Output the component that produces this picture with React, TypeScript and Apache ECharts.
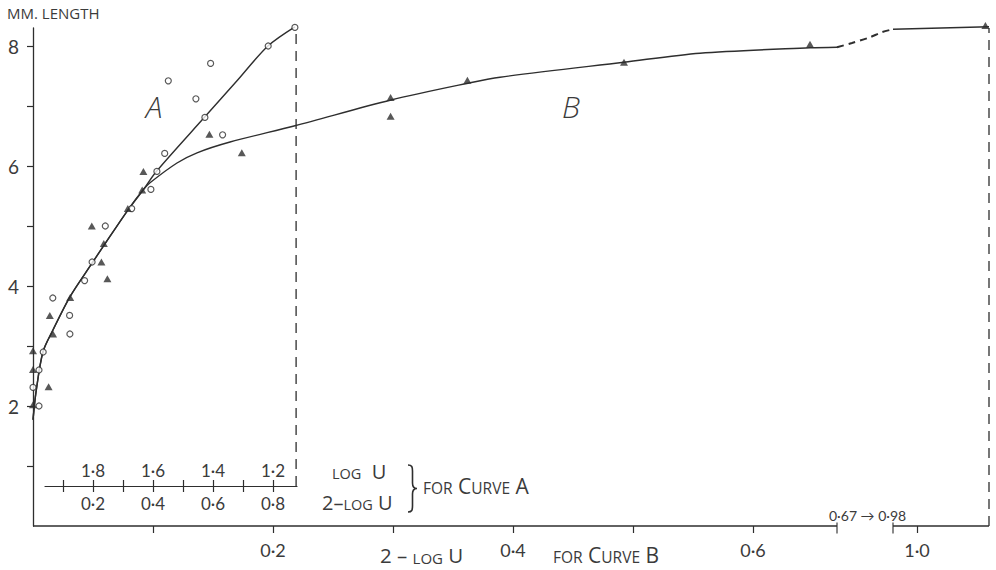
import React, { useEffect, useRef } from 'react';
import * as echarts from 'echarts';

// ---------- data ----------
// y axis: mm length
const Y_TICKS = [1, 2, 3, 4, 5, 6, 7, 8];
const Y_LABELS = [2, 4, 6, 8];
// main x axis (2 - log U for curve B), broken between 0.67 and 0.98
const B_TICKS = [0.1, 0.2, 0.3, 0.4, 0.5, 0.6, 1.0];
const B_LABELS = [0.2, 0.4, 0.6, 1.0];
const BREAK_START = 0.67;
const BREAK_END = 0.98;
const B_MAX = 1.06;
// inner x axis for curve A (2 - log U; log U shown above)
const A_TICKS = [0.1, 0.2, 0.3, 0.4, 0.5, 0.6, 0.7, 0.8];
const A_LABELS = [0.2, 0.4, 0.6, 0.8];
const A_AXIS_START = 0.04;
const A_AXIS_END = 0.88;

// open circles, curve A data (x = 2 - log U on the curve-A scale)
const CIRCLES_A: number[][] = [
  [0.873, 8.31], [0.784, 8.0], [0.592, 7.71], [0.451, 7.42], [0.543, 7.12],
  [0.573, 6.81], [0.632, 6.52], [0.439, 6.21], [0.413, 5.91], [0.393, 5.61],
  [0.329, 5.29], [0.241, 5.0], [0.197, 4.4], [0.172, 4.09], [0.066, 3.8],
  [0.122, 3.51], [0.123, 3.2], [0.034, 2.9], [0.02, 2.6], [0.0, 2.31], [0.02, 2.0],
];
// filled triangles, curve B data (x = 2 - log U on the curve-B scale)
const TRIANGLES_B: number[][] = [
  [0.079, 5.29], [0.049, 5.0], [0.059, 4.71], [0.057, 4.4], [0.062, 4.12],
  [0.031, 3.81], [0.014, 3.51], [0.0167, 3.2], [0.0, 2.92], [0.0, 2.61],
  [0.013, 2.32], [0.0, 2.02], [0.091, 5.6], [0.092, 5.91], [0.147, 6.53],
  [0.174, 6.22], [0.298, 7.14], [0.298, 6.83], [0.362, 7.43], [0.4925, 7.73],
  [0.6475, 8.03], [1.057, 8.34],
];
const CURVE_A: number[][] = [
  [0, 1.77], [0.01, 2.23], [0.033, 2.9], [0.067, 3.27], [0.123, 3.82],
  [0.197, 4.38], [0.237, 4.68], [0.317, 5.27], [0.367, 5.6], [0.413, 5.92],
  [0.573, 6.82], [0.68, 7.42], [0.783, 8.0], [0.873, 8.32],
];
const CURVE_B: number[][] = [
  [0, 1.77], [0.0025, 2.23], [0.0083, 2.9], [0.0167, 3.27], [0.0308, 3.82],
  [0.0492, 4.38], [0.0592, 4.68], [0.0792, 5.27], [0.0917, 5.6], [0.0975, 5.72],
  [0.12, 6.05], [0.1367, 6.22], [0.1642, 6.4], [0.2183, 6.67], [0.2983, 7.1],
  [0.3625, 7.38], [0.3892, 7.48], [0.4925, 7.73], [0.5558, 7.88], [0.6475, 7.97],
  [0.67, 7.98],
];
const CURVE_B_BRIDGE: number[][] = [
  [0.67, 7.98], [0.753, 8.05], [0.847, 8.14], [0.919, 8.23], [0.98, 8.28],
];
const CURVE_B_TAIL: number[][] = [[0.98, 8.28], [1.02, 8.3], [1.06, 8.32]];
const A_END_X = 0.877;
const A_END_Y = 8.31;

// ---------- layout ----------
const W = 996;
const H = 570;
const GRID_LEFT = 33;
const GRID_RIGHT = 7;
const GRID_TOP = 28;
const GRID_BOTTOM = 44;
const Y_MAX = 8.3;
const GAP = 56 / 1200; // break gap in axis units
const A_SCALE = 4; // curve-A scale is 4x the curve-B scale
const A_PX_PER_UNIT = 300;
const INNER_AXIS_PX = 486;
const INNER_AXIS_LEVEL = ((H - GRID_BOTTOM) - INNER_AXIS_PX) / ((H - GRID_BOTTOM - GRID_TOP) / Y_MAX);

const INK = '#2e2e2e';
const TEXT = '#3b3b3b';
const FONT = 'Lato, "Open Sans", sans-serif';
const CAPS_FONT = '"Open Sans", Lato, sans-serif';

function mapB(x: number): number {
  if (x <= BREAK_START) return x;
  if (x >= BREAK_END) return x - (BREAK_END - BREAK_START) + GAP;
  return BREAK_START + ((x - BREAK_START) / (BREAK_END - BREAK_START)) * GAP;
}
function unmapB(v: number): number {
  if (v <= BREAK_START) return v;
  if (v >= BREAK_START + GAP) return v + (BREAK_END - BREAK_START) - GAP;
  return BREAK_START + ((v - BREAK_START) / GAP) * (BREAK_END - BREAK_START);
}
const fmt = (n: number) => (Math.round(n * 10) / 10).toFixed(1).replace('.', '\u00B7');
const mapPts = (pts: number[][]) => pts.map((p) => [mapB(p[0]), p[1]]);

const B_AXIS_MAX = mapB(B_MAX);
const A_AXIS_MAX = B_AXIS_MAX * A_SCALE;

let braceRegistered = false;
function registerBrace() {
  if (braceRegistered) return;
  const d =
    'M0,0 C4,0 4.5,2 4.5,6 L4.5,18 C4.5,21.5 5.5,23.5 9,23.5 C5.5,23.5 4.5,25.5 4.5,29 L4.5,41 C4.5,45 4,47 0,47';
  echarts.graphic.registerShape('brace', (echarts.graphic as any).extendPath(d, {}));
  braceRegistered = true;
}

function smallCaps(text: string, x: number, y: number, big = 20, small = 14.5) {
  return {
    type: 'text',
    x,
    y,
    silent: true,
    style: {
      text,
      fill: TEXT,
      fontFamily: CAPS_FONT,
      align: 'left',
      verticalAlign: 'middle',
      rich: {
        b: { fontSize: big, lineHeight: 20, verticalAlign: 'bottom', fill: TEXT, fontFamily: CAPS_FONT },
        s: { fontSize: small, lineHeight: 20, verticalAlign: 'bottom', fill: TEXT, fontFamily: CAPS_FONT },
      },
    },
  };
}

export default function App() {
  const ref = useRef<HTMLDivElement>(null);

  useEffect(() => {
    if (!ref.current) return;
    registerBrace();
    const chart = echarts.init(ref.current, null, { renderer: 'svg' });

    const lineBase = {
      type: 'line',
      symbol: 'none',
      smooth: 0.3,
      clip: false,
      silent: true,
      lineStyle: { color: INK, width: 1.4 },
    };

    const option: any = {
      animation: false,
      backgroundColor: '#ffffff',
      textStyle: { fontFamily: FONT },
      grid: [
        {
          left: GRID_LEFT, right: GRID_RIGHT, top: GRID_TOP, bottom: GRID_BOTTOM,
          containLabel: false, outerBoundsMode: 'none',
        },
        {
          left: GRID_LEFT + A_AXIS_START * A_PX_PER_UNIT,
          width: (A_AXIS_END - A_AXIS_START) * A_PX_PER_UNIT,
          bottom: H - INNER_AXIS_PX,
          height: 20,
          containLabel: false, outerBoundsMode: 'none',
        },
      ],
      xAxis: [
        {
          gridIndex: 0, type: 'value', position: 'bottom', min: 0, max: B_AXIS_MAX,
          axisLine: { show: false },
          splitLine: { show: false },
          axisTick: {
            show: true, length: 7, customValues: B_TICKS.map(mapB),
            lineStyle: { color: INK, width: 1.2 },
          },
          axisLabel: {
            show: true, customValues: B_LABELS.map(mapB), margin: 15,
            formatter: (v: number) => fmt(unmapB(v)),
            color: TEXT, fontSize: 18, fontFamily: FONT,
          },
        },
        {
          gridIndex: 0, type: 'value', position: 'bottom', min: 0, max: A_AXIS_MAX, show: false,
          splitLine: { show: false },
        },
        {
          gridIndex: 1, type: 'value', position: 'bottom', min: A_AXIS_START, max: A_AXIS_END,
          axisLine: { show: true, onZero: false, lineStyle: { color: INK, width: 1.2 } },
          splitLine: { show: false },
          axisTick: {
            show: true, inside: true, length: 6, customValues: A_TICKS,
            lineStyle: { color: INK, width: 1.2 },
          },
          axisLabel: {
            show: true, inside: true, margin: 7, customValues: A_LABELS,
            formatter: (v: number) => fmt(2 - v),
            color: TEXT, fontSize: 17, fontFamily: FONT,
          },
        },
        {
          gridIndex: 1, type: 'value', position: 'bottom', min: A_AXIS_START, max: A_AXIS_END,
          axisLine: { show: false, onZero: false },
          splitLine: { show: false },
          axisTick: {
            show: true, length: 6, customValues: A_TICKS,
            lineStyle: { color: INK, width: 1.2 },
          },
          axisLabel: {
            show: true, margin: 9, customValues: A_LABELS,
            formatter: (v: number) => fmt(v),
            color: TEXT, fontSize: 17, fontFamily: FONT,
          },
        },
      ],
      yAxis: [
        {
          gridIndex: 0, type: 'value', min: 0, max: Y_MAX,
          axisLine: { show: true, lineStyle: { color: INK, width: 1.3 } },
          splitLine: { show: false },
          axisTick: {
            show: true, length: 6, customValues: Y_TICKS,
            lineStyle: { color: INK, width: 1.2 },
          },
          axisLabel: {
            show: true, customValues: Y_LABELS, margin: 14,
            color: TEXT, fontSize: 19, fontFamily: FONT,
          },
        },
        { gridIndex: 1, type: 'value', min: 0, max: 1, show: false },
      ],
      series: [
        // bottom axis line, broken
        {
          ...lineBase, smooth: false, xAxisIndex: 0, yAxisIndex: 0,
          data: mapPts([[0, 0], [BREAK_START, 0]]),
          lineStyle: { color: INK, width: 1.3 },
        },
        {
          ...lineBase, smooth: false, xAxisIndex: 0, yAxisIndex: 0,
          data: mapPts([[BREAK_END, 0], [B_MAX, 0]]),
          lineStyle: { color: INK, width: 1.3 },
        },
        // break caps
        {
          type: 'scatter', xAxisIndex: 0, yAxisIndex: 0, silent: true, clip: false,
          symbol: 'rect', symbolSize: [1.4, 11], symbolOffset: [0, 2],
          itemStyle: { color: INK },
          data: mapPts([[BREAK_START, 0], [BREAK_END, 0]]),
        },
        // dashed vertical at end of curve A
        {
          ...lineBase, smooth: false, xAxisIndex: 1, yAxisIndex: 0,
          data: [[A_END_X, INNER_AXIS_LEVEL], [A_END_X, A_END_Y]],
          lineStyle: { color: INK, width: 1.3, type: [10, 7] },
        },
        // dashed vertical at end of curve B
        {
          ...lineBase, smooth: false, xAxisIndex: 0, yAxisIndex: 0,
          data: mapPts([[B_MAX, 0], [B_MAX, 8.3]]),
          lineStyle: { color: INK, width: 1.3, type: [10, 7] },
        },
        // curve A
        { ...lineBase, xAxisIndex: 1, yAxisIndex: 0, data: CURVE_A },
        // curve B
        { ...lineBase, xAxisIndex: 0, yAxisIndex: 0, data: mapPts(CURVE_B) },
        {
          ...lineBase, xAxisIndex: 0, yAxisIndex: 0, data: mapPts(CURVE_B_BRIDGE),
          lineStyle: { color: INK, width: 2, type: [7, 5] },
        },
        { ...lineBase, smooth: false, xAxisIndex: 0, yAxisIndex: 0, data: mapPts(CURVE_B_TAIL) },
        // points
        {
          type: 'scatter', xAxisIndex: 1, yAxisIndex: 0, silent: true, clip: false,
          symbol: 'circle', symbolSize: 6,
          itemStyle: { color: '#ffffff', borderColor: INK, borderWidth: 1.2 },
          data: CIRCLES_A, z: 5,
        },
        {
          type: 'scatter', xAxisIndex: 0, yAxisIndex: 0, silent: true, clip: false,
          symbol: 'triangle', symbolSize: [8, 7],
          itemStyle: { color: INK },
          data: mapPts(TRIANGLES_B), z: 5,
        },
      ],
      graphic: [
        {
          type: 'text', x: 7, y: 13, silent: true,
          style: {
            text: 'MM. LENGTH', fill: TEXT, fontSize: 15, fontFamily: CAPS_FONT,
            align: 'left', verticalAlign: 'middle',
          },
        },
        {
          type: 'text', x: 154, y: 106, silent: true,
          style: {
            text: 'A', fill: TEXT, fontSize: 30, fontStyle: 'italic', fontWeight: 300,
            fontFamily: CAPS_FONT, align: 'center', verticalAlign: 'middle',
          },
        },
        {
          type: 'text', x: 571, y: 106, silent: true,
          style: {
            text: 'B', fill: TEXT, fontSize: 30, fontStyle: 'italic', fontWeight: 300,
            fontFamily: CAPS_FONT, align: 'center', verticalAlign: 'middle',
          },
        },
        smallCaps('{s|LOG}{b|  U}', 332, 471),
        smallCaps('{b|2\u2013}{s|LOG}{b| U}', 322, 502),
        {
          type: 'brace', x: 408, y: 465, silent: true,
          style: { stroke: INK, fill: 'none', lineWidth: 1.6 },
        },
        smallCaps('{s|FOR}{b| C}{s|URVE}{b| A}', 423, 486, 21, 15.5),
        smallCaps('{b|2 \u2013 }{s|LOG}{b| U}', 380, 555, 20.5, 15),
        smallCaps('{s|FOR}{b| C}{s|URVE}{b| B}', 553, 555, 21, 15.5),
        {
          type: 'text', x: 829, y: 515, silent: true,
          style: {
            text: '0\u00B767 \u2192 0\u00B798', fill: TEXT, fontSize: 14, fontFamily: FONT,
            align: 'left', verticalAlign: 'middle',
          },
        },
      ],
    };

    chart.setOption(option);
    return () => chart.dispose();
  }, []);

  return (
    <div
      ref={ref}
      style={{ position: 'fixed', left: 0, top: 0, width: W, height: H, background: '#fff' }}
    />
  );
}
